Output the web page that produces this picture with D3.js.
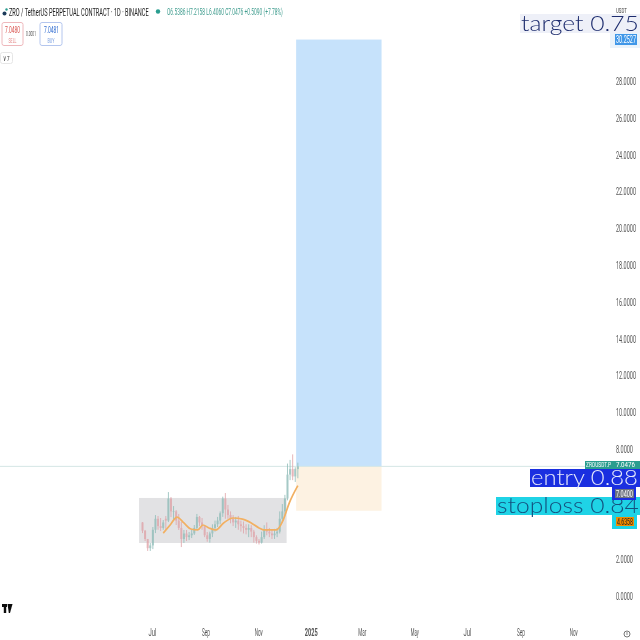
<!DOCTYPE html>
<html>
<head>
<meta charset="utf-8">
<script src="https://cdn.jsdelivr.net/npm/d3@7"></script>
<style>
    html, body { margin: 0; padding: 0; background: #fff; }
    svg { display: block; font-family: "Roboto", sans-serif; }
</style>
</head>
<body>
<div id="chart"></div>
<script>
// ローソク足データ (3日ごと)
const candleDates = ['2024-06-20','2024-06-23','2024-06-26','2024-06-29','2024-07-02','2024-07-05','2024-07-08','2024-07-11','2024-07-14','2024-07-17','2024-07-20','2024-07-23','2024-07-26','2024-07-29','2024-08-01','2024-08-04','2024-08-07','2024-08-10','2024-08-13','2024-08-16','2024-08-19','2024-08-22','2024-08-25','2024-08-28','2024-08-31','2024-09-03','2024-09-06','2024-09-09','2024-09-12','2024-09-15','2024-09-18','2024-09-21','2024-09-24','2024-09-27','2024-09-30','2024-10-03','2024-10-06','2024-10-09','2024-10-12','2024-10-15','2024-10-18','2024-10-21','2024-10-24','2024-10-27','2024-10-30','2024-11-02','2024-11-05','2024-11-08','2024-11-11','2024-11-14','2024-11-17','2024-11-20','2024-11-23','2024-11-26','2024-11-29','2024-12-02','2024-12-05','2024-12-08','2024-12-11','2024-12-14','2024-12-17'];
const opens  = [4.0,3.55,3.1,2.6,2.75,3.6,4.2,3.8,3.7,4.2,4.1,5.3,4.6,4.6,4.1,3.7,3.1,3.4,3.2,3.3,3.4,3.7,4.3,4.0,3.8,3.3,3.1,3.4,3.7,3.9,4.1,4.5,5.3,4.7,4.4,4.2,4.0,4.1,3.9,3.8,3.7,3.6,3.7,3.5,3.2,3.0,2.9,3.2,3.6,3.5,3.4,3.3,3.4,3.5,4.2,4.6,5.3,6.6,6.9,6.5,6.9];
const highs  = [4.02,3.59,2.99,2.88,3.75,4.4,4.35,4.24,4.13,4.35,5.65,5.38,4.89,4.67,4.46,4.02,3.59,3.59,3.48,3.6,3.86,4.46,4.35,4.24,3.8,3.48,3.5,3.9,4.1,4.3,4.6,5.4,5.6,4.95,4.6,4.4,4.3,4.35,4.1,4.05,3.9,3.9,3.85,3.6,3.3,3.1,3.5,3.85,4.0,3.7,3.6,3.65,3.7,4.6,5.0,5.5,7.2,7.4,7.7,7.0,7.25];
const lows   = [3.42,2.99,2.45,2.45,2.55,3.42,3.6,3.53,3.6,3.6,4.02,4.29,4.13,3.86,3.59,2.66,2.88,2.99,3.04,3.15,3.32,3.59,3.8,3.6,3.2,2.95,2.9,3.2,3.5,3.75,3.9,4.3,4.2,4.2,3.95,3.8,3.7,3.6,3.5,3.4,3.35,3.2,3.2,2.9,2.85,2.8,2.85,3.1,3.3,3.2,3.1,3.1,3.2,3.4,4.0,4.4,5.2,6.3,6.3,6.2,6.4];
const closes = [3.55,3.1,2.6,2.75,3.6,4.2,3.8,3.7,4.0,4.1,5.3,4.6,4.6,4.1,3.7,3.1,3.4,3.2,3.3,3.4,3.7,4.3,4.0,3.8,3.3,3.1,3.4,3.7,3.9,4.1,4.5,5.3,4.7,4.4,4.2,4.0,4.1,3.9,3.8,3.7,3.6,3.7,3.5,3.2,3.0,2.9,3.2,3.6,3.5,3.4,3.3,3.4,3.5,4.2,4.6,5.3,6.6,6.9,6.5,6.9,7.05];

// 移動平均線
const maDates  = ['2024-07-14','2024-07-22','2024-07-30','2024-08-07','2024-08-15','2024-08-23','2024-08-29','2024-09-05','2024-09-13','2024-09-22','2024-10-03','2024-10-14','2024-10-24','2024-11-02','2024-11-08','2024-11-22','2024-11-30','2024-12-07','2024-12-17'];
const maValues = [3.42,3.86,4.29,3.97,3.64,3.59,3.86,3.7,3.59,3.97,4.24,4.18,3.97,3.7,3.59,3.59,4.13,5.05,6.0];

// 4と6はラベルの下に隠れているので出さない
const yTicks = [0,2,8,10,12,14,16,18,20,22,24,26,28];
const xTickDates = ['2024-07-01','2024-09-01','2024-11-01','2025-01-01','2025-03-01','2025-05-01','2025-07-01','2025-09-01','2025-11-01'];
const xTickLabels = ['Jul','Sep','Nov','2025','Mar','May','Jul','Sep','Nov'];

const lastPrice = 7.0476;
const targetPrice = 30.2527;
const entryPrice = 7.04;
const stopPrice = 4.6358;
const rangeTop = 5.33;
const rangeBottom = 2.88;

const parseDate = d3.utcParse('%Y-%m-%d');
const W = 640, H = 640;

const x = d3.scaleUtc()
    .domain([parseDate('2024-07-01'), parseDate('2025-07-01')])
    .range([152, 467]);
const y = d3.scaleLinear().domain([0, 28]).range([596, 81]);

const svg = d3.select('#chart').append('svg').attr('width', W).attr('height', H);

const defs = svg.append('defs');
defs.append('filter').attr('id', 'soft').append('feGaussianBlur').attr('stdDeviation', 0.45);
defs.append('filter').attr('id', 'softer').append('feGaussianBlur').attr('stdDeviation', 0.75);

// 幅を合わせて横に潰す
function fitWidth(sel, len) {
    sel.each(function (d, i) {
        const w = this.getComputedTextLength();
        const target = typeof len === 'function' ? len(d, i) : len;
        const sx = target / w;
        const tx = +this.getAttribute('data-x') || 0;
        const ty = +this.getAttribute('data-y') || 0;
        this.setAttribute('transform', `translate(${tx},${ty}) scale(${sx},1)`);
    });
}

function squeezed(g, tx, ty, str, len, size, fill, opts = {}) {
    const t = g.append('text')
        .attr('data-x', tx).attr('data-y', ty)
        .attr('font-size', size).attr('fill', fill)
        .attr('font-weight', opts.weight || 400)
        .attr('font-family', opts.family || 'Roboto, sans-serif')
        .text(str);
    fitWidth(t, len);
    return t;
}

// ポジションの範囲
const boxLeft = parseDate('2024-12-15'), boxRight = parseDate('2025-03-24');
svg.append('rect').attr('x', x(boxLeft)).attr('width', x(boxRight) - x(boxLeft))
    .attr('y', y(targetPrice)).attr('height', y(entryPrice) - y(targetPrice)).attr('fill', '#c6e2fb');
svg.append('rect').attr('x', x(boxLeft)).attr('width', x(boxRight) - x(boxLeft))
    .attr('y', y(entryPrice)).attr('height', y(stopPrice) - y(entryPrice)).attr('fill', '#fdf2e2');

// レンジの箱
const rangeLeft = parseDate('2024-06-16'), rangeRight = parseDate('2024-12-04');
svg.append('rect').attr('x', x(rangeLeft)).attr('width', x(rangeRight) - x(rangeLeft))
    .attr('y', y(rangeTop)).attr('height', y(rangeBottom) - y(rangeTop)).attr('fill', '#e2e2e4');

// 現在値の線
svg.append('line').attr('x1', 0).attr('x2', 590)
    .attr('y1', y(lastPrice)).attr('y2', y(lastPrice))
    .attr('stroke', '#d5e6e5').attr('stroke-width', 1);

// ローソク足
const candles = candleDates.map((d, i) => ({
    date: parseDate(d), open: opens[i], high: highs[i], low: lows[i], close: closes[i]
}));
const candleG = svg.append('g').attr('filter', 'url(#softer)').attr('opacity', 0.8);
const candleColor = d => d.close >= d.open ? '#8fbcb8' : '#dfa3a8';
candleG.selectAll('line').data(candles).enter().append('line')
    .attr('x1', d => x(d.date)).attr('x2', d => x(d.date))
    .attr('y1', d => y(d.high)).attr('y2', d => y(d.low))
    .attr('stroke', candleColor).attr('stroke-width', 1);
candleG.selectAll('rect').data(candles).enter().append('rect')
    .attr('x', d => x(d.date) - 1)
    .attr('width', 2)
    .attr('y', d => y(Math.max(d.open, d.close)))
    .attr('height', d => Math.max(0.6, Math.abs(y(d.open) - y(d.close))))
    .attr('fill', candleColor);

// 移動平均
const maLine = d3.line().x(d => x(d.date)).y(d => y(d.value)).curve(d3.curveMonotoneX);
svg.append('path')
    .datum(maDates.map((d, i) => ({ date: parseDate(d), value: maValues[i] })))
    .attr('d', maLine)
    .attr('fill', 'none').attr('stroke', '#f2b062').attr('stroke-width', 1.7)
    .attr('filter', 'url(#soft)');

// 軸
const textG = svg.append('g').attr('filter', 'url(#soft)');
const yAxis = textG.append('g').attr('transform', 'translate(616,0)')
    .call(d3.axisRight(y).tickValues(yTicks).tickSize(0).tickPadding(0).tickFormat(d => d.toFixed(4)));
yAxis.select('.domain').remove();
yAxis.selectAll('text').attr('font-size', 11).attr('font-family', 'Roboto, sans-serif').attr('fill', '#555');
fitWidth(yAxis.selectAll('text'), d => d < 10 ? 17 : 20);

const xAxis = textG.append('g').attr('transform', 'translate(0,628)')
    .call(d3.axisBottom(x).tickValues(xTickDates.map(parseDate)).tickSize(0).tickPadding(0)
        .tickFormat((d, i) => xTickLabels[i]));
xAxis.select('.domain').remove();
xAxis.selectAll('text').attr('font-size', 11).attr('font-family', 'Roboto, sans-serif').attr('fill', '#555')
    .attr('font-weight', (d, i) => xTickLabels[i] === '2025' ? 700 : 400);
xAxis.selectAll('text').each(function (d, i) {
    const w = this.getComputedTextLength();
    const target = xTickLabels[i] === '2025' ? 13 : 8;
    this.setAttribute('transform', `scale(${target / w},1)`);
});

// ヘッダー
squeezed(textG, 9, 16, 'ZRO / TetherUS PERPETUAL CONTRACT · 1D · BINANCE', 140, 11, '#222');
textG.append('circle').attr('cx', 158).attr('cy', 11.5).attr('r', 2.2).attr('fill', '#2a9d8f');
textG.append('circle').attr('cx', 4.5).attr('cy', 13.5).attr('r', 2).attr('fill', '#1a3a5a');
textG.append('circle').attr('cx', 6.5).attr('cy', 9.5).attr('r', 1.2).attr('fill', '#2a9d8f');
squeezed(textG, 167, 15, 'O6.5386 H7.2158 L6.4060 C7.0476 +0.5090 (+7.78%)', 116, 8.5, '#3d9b8d');

textG.append('rect').attr('x', 2).attr('y', 22.5).attr('width', 21).attr('height', 23).attr('rx', 2)
    .attr('fill', '#fff').attr('stroke', '#eeb8bc');
squeezed(textG, 5, 33, '7.0480', 15, 9, '#d9534f');
squeezed(textG, 8.5, 43, 'SELL', 8, 7.5, '#e58b8b');
squeezed(textG, 26, 36, '0.0001', 10, 6.5, '#555');
textG.append('rect').attr('x', 40).attr('y', 22.5).attr('width', 22).attr('height', 23).attr('rx', 2)
    .attr('fill', '#fff').attr('stroke', '#b4c6ee');
squeezed(textG, 44, 33, '7.0481', 15, 9, '#2f6bd0');
squeezed(textG, 47.5, 43, 'BUY', 7, 7.5, '#7a9fe0');
textG.append('rect').attr('x', 0.5).attr('y', 52.5).attr('width', 12).attr('height', 11).attr('rx', 2)
    .attr('fill', '#fff').attr('stroke', '#e6e6e6');
squeezed(textG, 3, 61, '∨ 7', 7, 8, '#333');

squeezed(textG, 616, 13, 'USDT', 11, 8, '#444');

// TradingViewのロゴ
const logo = textG.append('g').attr('fill', '#111');
logo.append('rect').attr('x', 2).attr('y', 604).attr('width', 5).attr('height', 3);
logo.append('rect').attr('x', 3.8).attr('y', 604).attr('width', 2.4).attr('height', 9);
logo.append('path').attr('d', 'M7.5 604h5l-2.5 9h-1.2z');

// 時計アイコン
textG.append('circle').attr('cx', 627).attr('cy', 634).attr('r', 3).attr('fill', 'none').attr('stroke', '#555').attr('stroke-width', 0.8);
textG.append('line').attr('x1', 627).attr('x2', 627).attr('y1', 632).attr('y2', 635).attr('stroke', '#555').attr('stroke-width', 0.7);

// 価格ラベル
textG.append('rect').attr('x', 610).attr('y', 33).attr('width', 30).attr('height', 15).attr('fill', '#eaf3fb');
textG.append('rect').attr('x', 615).attr('y', 34).attr('width', 22).attr('height', 11).attr('fill', '#3f97e8');
squeezed(textG, 616, 43, targetPrice.toFixed(4), 20, 10, '#fff');

textG.append('rect').attr('x', 585).attr('y', 461).attr('width', 55).attr('height', 8).attr('fill', '#2a9d8f');
squeezed(textG, 586, 467.3, 'ZROUSDT.P', 25, 6.5, '#fff');
squeezed(textG, 616, 467.3, lastPrice.toFixed(4), 19, 6.5, '#fff');

// 検出ラベル
const tags = [
    { name: 'target 0.75', x0: 520, y0: 14, y1: 33, fill: '#eef0f8', color: '#1d2c6e', tx: 521, base: 30.5, len: 118 },
    { name: 'entry 0.88', x0: 530, y0: 469, y1: 487, fill: '#1a2fe0', color: '#e4e8fb', tx: 531, base: 484.5, len: 107 },
    { name: 'stoploss 0.84', x0: 496, y0: 497, y1: 515, fill: '#1fd3e6', color: '#14507f', tx: 497, base: 512.5, len: 142 }
];
svg.selectAll('.tag-box').data(tags).enter().append('rect').attr('class', 'tag-box')
    .attr('x', d => d.x0).attr('y', d => d.y0)
    .attr('width', d => W - d.x0).attr('height', d => d.y1 - d.y0)
    .attr('fill', d => d.fill);
const tagText = svg.selectAll('.tag-text').data(tags).enter().append('text').attr('class', 'tag-text')
    .attr('data-x', d => d.tx).attr('data-y', d => d.base)
    .attr('font-family', 'Lato, sans-serif').attr('font-weight', 300).attr('font-size', 22)
    .attr('fill', d => d.color).text(d => d.name);
fitWidth(tagText, d => d.len);

const priceG = svg.append('g').attr('filter', 'url(#soft)');
priceG.append('rect').attr('x', 612).attr('y', 487).attr('width', 24).attr('height', 13).attr('fill', '#1a2fe0');
priceG.append('rect').attr('x', 615).attr('y', 489).attr('width', 19).attr('height', 9).attr('fill', '#6d7280');
squeezed(priceG, 616, 496.5, entryPrice.toFixed(4), 17, 8.5, '#fff');
priceG.append('rect').attr('x', 612).attr('y', 515).attr('width', 25).attr('height', 14).attr('fill', '#1fd3e6');
priceG.append('rect').attr('x', 616).attr('y', 517).attr('width', 18).attr('height', 9).attr('fill', '#f08c00');
squeezed(priceG, 617, 524.5, stopPrice.toFixed(4), 16, 8.5, '#222');
</script>
</body>
</html>
